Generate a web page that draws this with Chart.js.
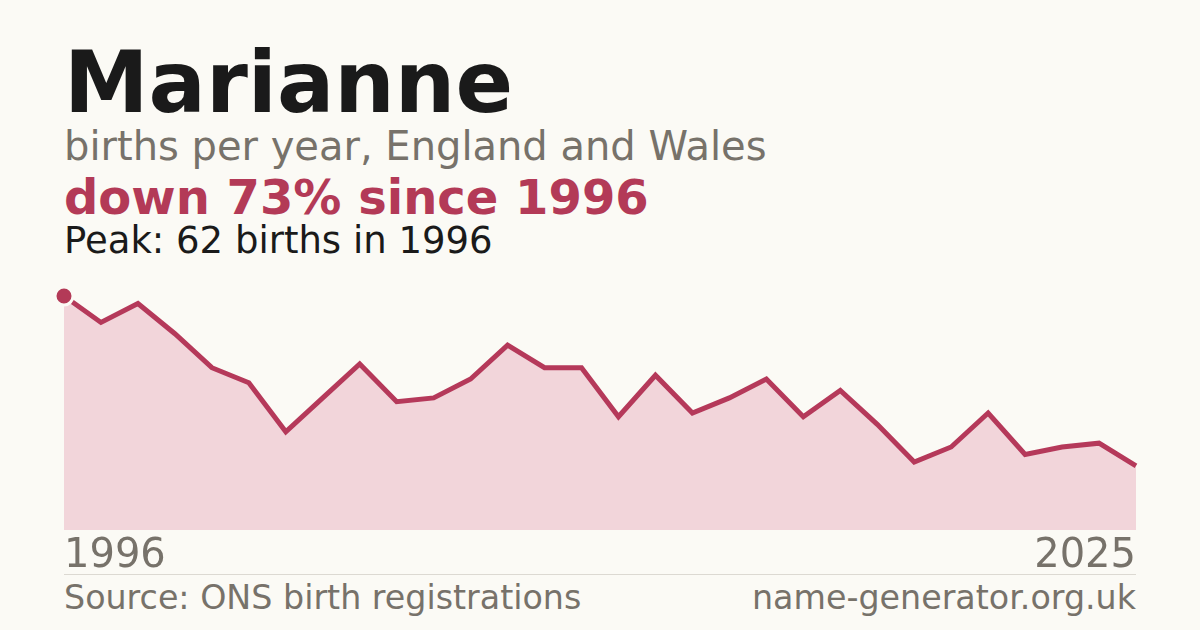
<!DOCTYPE html>
<html>
<head>
<meta charset="utf-8">
<script src="https://cdn.jsdelivr.net/npm/chart.js@4"></script>
<style>
  html, body { margin: 0; padding: 0; }
  body { width: 1200px; height: 630px; background: #fbfaf5; position: relative; overflow: hidden; font-family: "DejaVu Sans", sans-serif; }
  .txt { position: absolute; left: 64px; white-space: nowrap; }
  #title { top: 40px; font-size: 85px; line-height: 85px; font-weight: bold; color: #1a1a1a; }
  #subtitle { top: 126px; font-size: 40px; line-height: 40px; color: #77726a; }
  #change { top: 173px; font-size: 48px; line-height: 48px; font-weight: bold; color: #b33a57; }
  #peak { top: 222px; font-size: 37px; line-height: 37px; color: #1a1a1a; }
  #rule { position: absolute; left: 64px; top: 574px; width: 1072px; height: 1px; background: #dcd9d2; }
  #source { top: 581px; font-size: 33.3px; line-height: 33px; color: #77726a; }
  #site { top: 581px; left: auto; right: 64px; font-size: 33.3px; line-height: 33px; color: #77726a; }
  #chartBox { position: absolute; left: 0; top: 270px; width: 1200px; height: 308px; }
</style>
</head>
<body>
  <div class="txt" id="title">Marianne</div>
  <div class="txt" id="subtitle">births per year, England and Wales</div>
  <div class="txt" id="change">down 73% since 1996</div>
  <div class="txt" id="peak">Peak: 62 births in 1996</div>
  <div id="chartBox"><canvas id="birthsChart"></canvas></div>
  <div id="rule"></div>
  <div class="txt" id="source">Source: ONS birth registrations</div>
  <div class="txt" id="site">name-generator.org.uk</div>

<script>
  // data
  const years = [
    "1996", "1997", "1998", "1999", "2000", "2001", "2002", "2003", "2004", "2005",
    "2006", "2007", "2008", "2009", "2010", "2011", "2012", "2013", "2014", "2015",
    "2016", "2017", "2018", "2019", "2020", "2021", "2022", "2023", "2024", "2025"
  ];
  const births = [
    62, 55, 60, 52, 43, 39, 26, 35, 44, 34,
    35, 40, 49, 43, 43, 30, 41, 31, 35, 40,
    30, 37, 28, 18, 22, 31, 20, 22, 23, 17
  ];
  const tickYears = ["1996", "2025"];

  const peakIndex = births.indexOf(Math.max(...births));

  const ctx = document.getElementById('birthsChart').getContext('2d');
  new Chart(ctx, {
    type: 'line',
    data: {
      labels: years,
      datasets: [{
        data: births,
        borderColor: '#b5395a',
        borderWidth: 5,
        backgroundColor: '#f2d5da',
        fill: 'origin',
        tension: 0,
        clip: false,
        pointRadius: c => c.dataIndex === peakIndex ? 9 : 0,
        pointHoverRadius: 0,
        pointBackgroundColor: '#b33a57',
        pointBorderColor: '#fbfaf5',
        pointBorderWidth: 3
      }]
    },
    options: {
      responsive: true,
      maintainAspectRatio: false,
      animation: false,
      layout: { padding: { left: 64, right: 64, top: 26, bottom: 0 } },
      plugins: { legend: { display: false }, tooltip: { enabled: false } },
      scales: {
        x: {
          grid: { display: false, drawTicks: false },
          border: { display: false },
          afterFit: function (scale) { scale.height = 48; },
          ticks: {
            autoSkip: false,
            maxRotation: 0,
            align: 'inner',
            padding: 3,
            color: '#77726a',
            font: { family: 'DejaVu Sans', size: 40 },
            callback: function (val) {
              const lbl = this.getLabelForValue(val);
              return tickYears.includes(lbl) ? lbl : null;
            }
          }
        },
        y: {
          display: false,
          min: 0,
          max: 62
        }
      }
    }
  });
</script>
</body>
</html>
